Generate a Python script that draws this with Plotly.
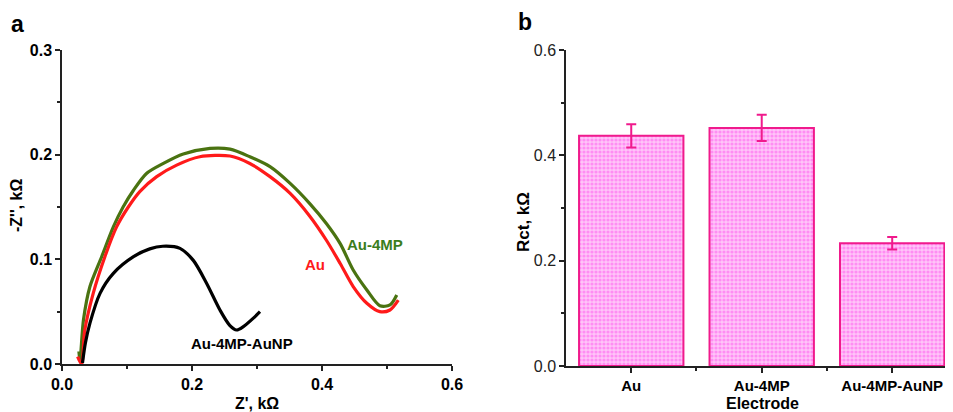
import plotly.graph_objects as go

# ---- Panel a: Nyquist plots ----
au_x = [0.024, 0.030, 0.035, 0.048, 0.066, 0.084, 0.102, 0.120, 0.1457, 0.1764, 0.212, 0.2585, 0.289, 0.320, 0.351, 0.3815, 0.407, 0.428, 0.448, 0.469, 0.489, 0.5046, 0.5174]
au_y = [0.007, 0.000, 0.032, 0.0675, 0.1025, 0.131, 0.150, 0.165, 0.179, 0.190, 0.198, 0.1987, 0.1916, 0.179, 0.163, 0.141, 0.118, 0.096, 0.074, 0.058, 0.050, 0.0516, 0.061]

mp_x = [0.026, 0.0277, 0.033, 0.043, 0.061, 0.079, 0.094, 0.110, 0.130, 0.156, 0.1866, 0.2277, 0.2585, 0.289, 0.320, 0.351, 0.3815, 0.407, 0.428, 0.448, 0.469, 0.489, 0.5046, 0.515]
mp_y = [0.012, 0.004, 0.042, 0.074, 0.1025, 0.131, 0.150, 0.166, 0.182, 0.1916, 0.2006, 0.206, 0.2053, 0.198, 0.1885, 0.1725, 0.153, 0.134, 0.115, 0.0898, 0.0707, 0.0557, 0.0564, 0.066]

np_x = [0.0315, 0.036, 0.043, 0.0585, 0.079, 0.110, 0.135, 0.155, 0.1815, 0.202, 0.2226, 0.243, 0.258, 0.2687, 0.279, 0.294, 0.3046]
np_y = [0.001, 0.020, 0.039, 0.0675, 0.0866, 0.1025, 0.1100, 0.1125, 0.1105, 0.099, 0.077, 0.0516, 0.037, 0.0325, 0.0357, 0.0436, 0.050]

# ---- Panel b: Rct bars ----
electrodes = ["Au", "Au-4MP", "Au-4MP-AuNP"]
rct = [0.437, 0.452, 0.233]
rct_err = [0.022, 0.025, 0.012]

FONT = "Liberation Sans, Arial, sans-serif"
GREEN = "#4a7311"
RED = "#ff1a1a"
PINK = "#f01a8c"

# page body has an 8px margin: figure is sized/positioned to compensate
OFF = 8
W, H = 953 - OFF, 412 - OFF
def px(x): return (x - OFF) / W
def py(y): return 1 - (y - OFF) / H

fig = go.Figure()

fig.add_trace(go.Scatter(x=mp_x, y=mp_y, mode="lines", line=dict(color=GREEN, width=3.2, shape="spline", smoothing=0.8),
                         xaxis="x", yaxis="y", showlegend=False))
fig.add_trace(go.Scatter(x=au_x, y=au_y, mode="lines", line=dict(color=RED, width=3.2, shape="spline", smoothing=0.8),
                         xaxis="x", yaxis="y", showlegend=False))
fig.add_trace(go.Scatter(x=np_x, y=np_y, mode="lines", line=dict(color="black", width=3.2, shape="spline", smoothing=0.8),
                         xaxis="x", yaxis="y", showlegend=False))

fig.add_trace(go.Bar(
    x=[0, 1, 2], y=rct, width=0.8, xaxis="x2", yaxis="y2", showlegend=False,
    marker=dict(color="#ffb3f7", line=dict(color=PINK, width=2),
                pattern=dict(shape=".", fgcolor="#ff55ee", bgcolor="#ffc4f8", size=4, solidity=0.5)),
    error_y=dict(type="data", array=rct_err, color=PINK, thickness=2, width=5),
))

axis_common = dict(showline=True, linecolor="#222", linewidth=1.5, ticks="outside", ticklen=5,
                   tickcolor="#222", tickwidth=1.5, showgrid=False, zeroline=False, mirror=False,
                   automargin=False)

fig.update_layout(
    width=W, height=H,
    autosize=False,
    margin=dict(l=0, r=0, t=0, b=0, pad=0, autoexpand=False),
    paper_bgcolor="white", plot_bgcolor="white",
    font=dict(family=FONT, color="black"),
    xaxis=dict(domain=[px(62), px(452)], range=[0, 0.6], anchor="y", tickvals=[0, 0.2, 0.4, 0.6],
               ticktext=["0.0", "0.2", "0.4", "0.6"],
               tickfont=dict(size=16, weight="bold", family=FONT),
               minor=dict(tickvals=[0.1, 0.3, 0.5], ticklen=3, tickcolor="#222", ticks="outside"),
               **axis_common),
    yaxis=dict(domain=[py(364), py(50)], range=[0, 0.3], anchor="x", tickvals=[0, 0.1, 0.2, 0.3],
               ticktext=["0.0", "0.1", "0.2", "0.3"],
               tickfont=dict(size=16, weight="bold", family=FONT),
               minor=dict(tickvals=[0.05, 0.15, 0.25], ticklen=3, tickcolor="#222", ticks="outside"),
               **axis_common),
    xaxis2=dict(domain=[px(566), 1.0], range=[-0.5, 2.466], anchor="y2", tickvals=[0, 1, 2],
                ticktext=electrodes,
                tickfont=dict(size=15, weight="bold", family=FONT),
                minor=dict(tickvals=[0.5, 1.5], ticklen=3, tickcolor="#222", ticks="outside"),
                **axis_common),
    yaxis2=dict(domain=[py(366), py(50)], range=[0, 0.6], anchor="x2", tickvals=[0, 0.2, 0.4, 0.6],
                ticktext=["0.0", "0.2", "0.4", "0.6"],
                tickfont=dict(size=16, family=FONT, color="#222"),
                minor=dict(tickvals=[0.1, 0.3, 0.5], ticklen=3, tickcolor="#222", ticks="outside"),
                **axis_common),
)

ann = []
def A(text, x, y, size, color="black", xref="paper", yref="paper", textangle=0, xanchor="center", yanchor="middle"):
    ann.append(dict(text=text, x=x, y=y, xref=xref, yref=yref, showarrow=False, textangle=textangle,
                    xanchor=xanchor, yanchor=yanchor,
                    font=dict(size=size, color=color, family=FONT, weight="bold")))

A("a", px(9), py(24), 23, xanchor="left")
A("b", px(516), py(22), 23, xanchor="left")
A("-Z'', kΩ", px(16), py(205), 16, textangle=-90)
A("Z', kΩ", px(257), -0.005, 16, yanchor="bottom")
A("Rct, kΩ", px(523), py(222), 17, textangle=-90)
A("Electrode", px(762), -0.005, 16, yanchor="bottom")
A("Au-4MP", 0.4815, 0.114, 15, color="#3a7d1c", xref="x", yref="y")
A("Au", 0.389, 0.095, 15, color=RED, xref="x", yref="y")
A("Au-4MP-AuNP", 0.2765, 0.0197, 15, xref="x", yref="y")
fig.update_layout(annotations=ann)

fig.write_html("out.html")
